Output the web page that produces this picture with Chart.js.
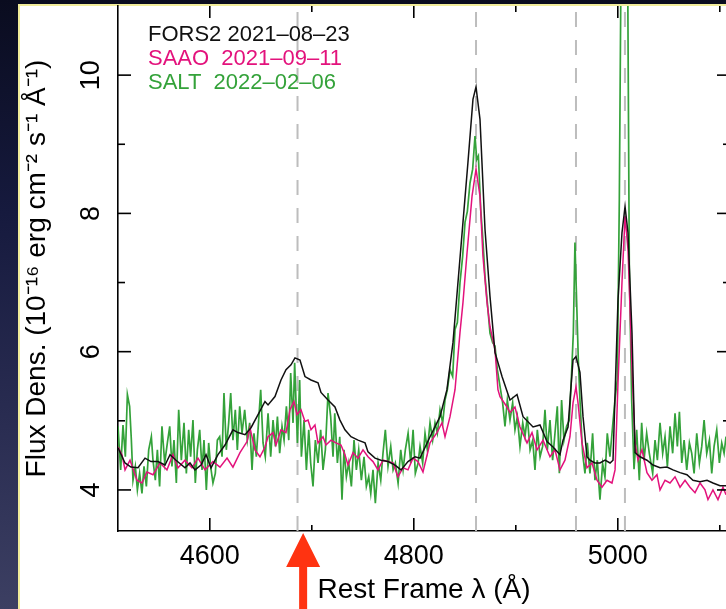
<!DOCTYPE html>
<html>
<head>
<meta charset="utf-8">
<script src="https://cdn.jsdelivr.net/npm/chart.js@4.4.1/dist/chart.umd.min.js"></script>
<style>
  html, body { margin: 0; padding: 0; overflow: hidden; }
  body {
    width: 726px; height: 609px; position: relative;
    background: linear-gradient(to bottom, #0a0c1f 0%, #161a3e 35%, #2a2d52 70%, #3c3f62 100%);
  }
  #panel {
    position: absolute; left: 18px; top: 4px; width: 760px; height: 640px;
    background: #fff; border-left: 2px solid #f1ec9a; border-top: 2px solid #f1ec9a;
  }
  #spectrum { position: absolute; left: 0; top: 0; }
</style>
</head>
<body>
<div id="panel"></div>
<canvas id="spectrum" width="740" height="609"></canvas>
<script>
// axis limits and ticks
const xMin = 4510, xMax = 5110;
const yMin = 3.406, yMax = 11.0;
const xMajorTicks = [4600, 4800, 5000];
const xMinorTicks = [4700, 4900, 5100];
const yMajorTicks = [4, 6, 8, 10];
const yMinorTicks = [5, 7, 9];

// He II 4686, H-beta, [O III] 4959 / 5007
const emissionLines = [4686, 4861, 4959, 5007];
const arrowLambda = 4691.5;

const legendLabels = ['FORS2 2021\u201308\u201323', 'SAAO  2021\u201309\u201311', 'SALT  2022\u201302\u201306'];
const seriesColors = ['#111111', '#e3127c', '#34a23a'];

// [rest wavelength (A), flux density]
const fors2 = [
  [4510.0,4.61],[4516.9,4.39],[4522.7,4.33],[4529.6,4.32],[4536.5,4.46],[4542.4,4.41],[4549.2,4.41],
  [4556.1,4.36],[4561.0,4.51],[4566.9,4.43],[4575.7,4.32],[4580.6,4.39],[4585.5,4.29],[4591.4,4.36],
  [4596.3,4.51],[4601.2,4.32],[4608.0,4.51],[4614.9,4.65],[4622.7,4.87],[4627.6,4.83],[4634.5,4.80],
  [4640.4,4.90],[4647.3,5.09],[4654.1,5.28],[4657.1,5.23],[4663.9,5.35],[4669.8,5.59],[4674.7,5.74],
  [4679.6,5.81],[4683.5,5.91],[4688.4,5.88],[4693.3,5.64],[4699.2,5.59],[4706.1,5.55],[4709.0,5.41],
  [4715.9,5.30],[4722.7,5.20],[4727.6,5.01],[4732.5,4.87],[4738.4,4.77],[4745.3,4.72],[4752.2,4.68],
  [4755.1,4.55],[4762.0,4.46],[4767.8,4.43],[4774.7,4.41],[4781.6,4.36],[4787.5,4.29],[4794.3,4.41],
  [4801.2,4.48],[4806.1,4.46],[4815.9,4.77],[4825.7,5.06],[4832.5,5.45],[4838.4,6.13],[4843.3,7.00],
  [4848.2,7.87],[4853.1,8.74],[4858.0,9.65],[4861.0,9.83],[4864.9,9.36],[4869.8,7.77],[4874.7,6.80],
  [4879.6,5.99],[4886.5,5.64],[4894.3,5.30],[4901.2,5.38],[4907.1,5.06],[4916.9,4.91],[4923.7,4.94],
  [4930.6,4.70],[4936.5,4.62],[4943.3,4.51],[4946.3,4.72],[4951.2,4.91],[4956.1,5.88],[4959.0,5.93],
  [4962.9,5.70],[4965.9,5.06],[4969.8,4.48],[4972.7,4.43],[4977.6,4.39],[4982.5,4.39],[4987.5,4.43],
  [4992.4,4.39],[4995.3,4.43],[5000.2,6.75],[5004.1,7.72],[5007.1,8.10],[5010.0,7.72],[5013.9,6.28],
  [5016.9,4.54],[5021.8,4.48],[5028.6,4.43],[5034.5,4.36],[5041.4,4.32],[5048.2,4.33],[5054.1,4.29],
  [5061.0,4.25],[5067.8,4.22],[5073.7,4.14],[5080.6,4.12],[5087.5,4.14],[5093.3,4.10],[5100.2,4.06],
  [5106.1,4.06]
];

const saao = [
  [4510.0,4.62],[4513.9,4.51],[4516.9,4.29],[4521.8,4.43],[4528.6,4.14],[4533.5,4.10],[4538.4,4.26],
  [4544.3,4.22],[4551.2,4.39],[4558.0,4.29],[4563.9,4.51],[4568.8,4.32],[4575.7,4.43],[4582.5,4.32],
  [4588.4,4.46],[4595.3,4.29],[4603.1,4.41],[4610.0,4.33],[4616.9,4.46],[4622.7,4.33],[4629.6,4.54],
  [4636.5,4.70],[4639.4,4.90],[4644.3,4.58],[4649.2,4.48],[4654.1,4.62],[4657.1,4.77],[4662.0,4.83],
  [4664.9,4.65],[4669.8,4.87],[4674.7,4.83],[4678.6,5.16],[4682.5,5.28],[4685.5,5.09],[4689.4,5.16],
  [4693.3,4.99],[4696.3,5.01],[4699.2,4.87],[4703.1,4.94],[4706.1,4.68],[4711.0,4.77],[4713.9,4.65],
  [4718.8,4.72],[4723.7,4.68],[4728.6,4.65],[4732.5,4.51],[4735.5,4.36],[4740.4,4.54],[4745.3,4.46],
  [4750.2,4.58],[4755.1,4.48],[4760.0,4.41],[4764.9,4.29],[4769.8,4.43],[4774.7,4.41],[4779.6,4.39],
  [4784.5,4.19],[4789.4,4.32],[4794.3,4.29],[4799.2,4.46],[4804.1,4.41],[4809.0,4.26],[4815.9,4.68],
  [4822.7,4.83],[4827.6,4.97],[4830.6,4.77],[4835.5,5.06],[4840.4,5.45],[4845.3,6.28],[4848.2,6.71],
  [4852.2,7.43],[4857.1,8.25],[4861.0,8.64],[4864.9,8.25],[4867.8,7.38],[4871.8,6.71],[4874.7,6.36],
  [4879.6,6.03],[4882.5,5.45],[4884.5,5.35],[4891.4,5.20],[4894.3,5.12],[4899.2,5.20],[4904.1,4.91],
  [4911.0,4.68],[4915.9,4.83],[4920.8,4.58],[4926.7,4.72],[4933.5,4.48],[4938.4,4.58],[4943.3,4.29],
  [4948.2,4.43],[4953.1,4.77],[4956.1,5.26],[4959.0,5.49],[4961.0,5.26],[4964.9,4.68],[4969.8,4.32],
  [4974.7,4.39],[4979.6,4.14],[4984.5,4.04],[4989.4,4.14],[4994.3,4.10],[4997.3,4.29],[5000.2,5.55],
  [5004.1,7.00],[5007.1,7.96],[5010.0,7.48],[5013.9,5.78],[5016.9,4.68],[5019.8,4.43],[5023.7,4.58],
  [5028.6,4.25],[5033.5,4.14],[5038.4,4.22],[5041.4,4.00],[5046.3,4.14],[5051.2,4.10],[5056.1,4.19],
  [5061.0,4.04],[5065.9,4.14],[5070.8,4.04],[5075.7,3.96],[5080.6,4.10],[5085.5,4.00],[5088.4,3.86],
  [5093.3,4.00],[5098.2,3.86],[5103.1,4.04],[5106.1,3.93]
];

const salt = [
  [4510.0,4.92],[4512.6,4.29],[4514.9,4.94],[4517.2,4.48],[4519.2,5.38],[4521.4,5.21],[4523.1,4.72],
  [4524.7,4.14],[4527.0,4.34],[4529.0,4.00],[4531.2,4.24],[4533.5,3.95],[4535.5,4.34],[4537.8,4.05],
  [4540.1,4.58],[4542.7,4.77],[4544.3,4.43],[4546.6,4.14],[4548.6,4.58],[4550.8,4.05],[4553.1,4.92],
  [4555.8,4.39],[4558.4,4.68],[4560.7,4.92],[4562.9,4.34],[4564.9,4.72],[4567.2,4.10],[4569.5,5.16],
  [4572.1,4.43],[4574.7,4.97],[4577.0,4.24],[4579.3,4.87],[4581.2,4.48],[4583.5,5.01],[4585.8,4.10],
  [4587.8,4.58],[4590.1,4.87],[4592.4,4.29],[4594.3,4.72],[4596.6,4.00],[4598.9,4.68],[4600.8,4.34],
  [4603.1,4.10],[4605.4,4.24],[4607.4,4.72],[4609.7,4.77],[4612.0,4.48],[4613.9,5.40],[4616.2,4.58],
  [4618.5,4.97],[4620.5,5.40],[4622.7,4.72],[4625.0,5.16],[4627.0,4.58],[4629.3,5.21],[4631.6,4.82],
  [4634.2,5.16],[4636.8,4.72],[4639.1,4.97],[4641.4,4.29],[4643.3,4.82],[4645.6,4.48],[4647.9,5.01],
  [4649.9,5.45],[4652.2,4.68],[4654.4,4.48],[4657.1,5.11],[4659.7,4.48],[4662.0,5.01],[4664.3,4.63],
  [4666.3,5.06],[4668.5,4.53],[4670.8,4.92],[4672.8,4.72],[4675.1,5.21],[4677.4,4.72],[4679.3,5.69],
  [4681.6,4.97],[4683.2,5.84],[4685.9,4.68],[4688.1,5.59],[4689.8,4.48],[4692.4,5.01],[4694.7,4.29],
  [4697.0,4.87],[4698.9,4.39],[4701.2,4.05],[4703.5,4.72],[4706.1,4.39],[4708.7,4.87],[4711.0,4.29],
  [4713.3,4.58],[4715.9,5.40],[4718.5,5.06],[4720.8,4.48],[4722.5,5.11],[4725.1,4.39],[4727.4,4.77],
  [4729.6,3.86],[4731.6,4.58],[4733.9,4.19],[4736.2,4.39],[4738.8,4.05],[4741.4,4.72],[4743.7,4.29],
  [4746.0,4.58],[4748.6,4.14],[4751.2,4.48],[4753.5,4.05],[4755.8,4.19],[4757.8,3.95],[4760.0,4.29],
  [4762.3,3.81],[4765.0,4.39],[4767.6,4.14],[4769.8,4.53],[4772.1,4.87],[4774.7,4.34],[4777.4,4.63],
  [4779.7,4.29],[4781.9,4.39],[4784.6,4.10],[4787.2,4.58],[4789.5,4.29],[4791.7,4.58],[4794.4,4.82],
  [4797.0,4.39],[4799.3,4.87],[4801.5,4.24],[4804.2,4.39],[4806.1,4.63],[4808.7,4.39],[4811.0,4.82],
  [4813.3,4.58],[4815.9,4.97],[4818.5,4.72],[4820.8,4.97],[4823.1,4.82],[4825.7,5.16],[4828.3,4.97],
  [4830.6,5.30],[4832.9,5.45],[4835.5,5.74],[4838.1,5.64],[4840.4,6.32],[4842.7,6.42],[4845.3,7.00],
  [4847.9,7.38],[4850.2,7.87],[4852.5,8.03],[4855.1,8.44],[4857.7,8.64],[4860.0,9.12],[4861.7,8.78],
  [4863.3,8.83],[4865.6,8.06],[4867.5,7.67],[4869.8,7.09],[4872.1,6.71],[4874.7,6.27],[4877.3,6.13],
  [4879.6,6.08],[4881.9,5.74],[4884.5,5.50],[4887.1,5.26],[4889.4,4.92],[4891.7,5.30],[4894.3,5.01],
  [4896.9,5.26],[4899.2,4.87],[4901.5,5.06],[4904.1,4.63],[4906.8,4.97],[4909.0,4.77],[4911.3,5.06],
  [4914.0,4.58],[4916.6,4.72],[4918.8,4.29],[4921.1,4.87],[4923.8,4.48],[4926.3,4.63],[4928.6,5.16],
  [4930.9,4.58],[4933.5,5.01],[4936.1,4.43],[4938.4,4.82],[4940.7,5.21],[4942.7,4.24],[4944.9,5.30],
  [4947.2,4.72],[4949.8,4.92],[4952.5,5.01],[4954.7,5.69],[4956.4,6.27],[4958.0,7.58],[4959.6,6.75],
  [4961.3,5.88],[4962.9,5.30],[4965.5,4.53],[4967.8,4.24],[4970.1,4.68],[4972.7,4.24],[4975.3,4.82],
  [4977.6,4.14],[4979.9,4.43],[4982.5,3.86],[4985.1,4.38],[4987.4,4.19],[4989.7,4.82],[4992.3,4.48],
  [4994.9,4.92],[4997.2,5.30],[4999.5,5.60],[5001.5,8.20],[5003.1,11.5],[5004.7,13.5],[5007.0,14.5],
  [5009.3,12.5],[5011.3,7.20],[5013.6,5.30],[5015.9,4.30],[5018.5,4.87],[5021.1,4.14],[5023.4,4.97],
  [5025.7,4.43],[5028.3,4.82],[5030.9,4.53],[5034.2,4.24],[5036.5,4.72],[5038.8,4.43],[5041.4,4.97],
  [5044.0,4.53],[5046.3,4.77],[5048.6,4.34],[5051.2,4.92],[5053.8,4.53],[5056.1,5.11],[5058.4,4.63],
  [5060.4,5.13],[5062.7,4.39],[5065.0,4.72],[5067.6,4.29],[5070.2,4.68],[5072.5,4.53],[5074.8,4.24],
  [5077.4,4.82],[5080.0,4.39],[5082.3,4.63],[5084.6,5.01],[5087.2,4.53],[5089.8,4.72],[5092.1,4.24],
  [5094.4,4.63],[5097.0,4.87],[5099.6,4.39],[5101.9,4.68],[5104.2,4.53],[5106.1,4.77]
];

const FONT = "'Liberation Sans', Arial, Helvetica, sans-serif";
Chart.defaults.font.family = FONT;
Chart.defaults.color = '#000';

const toPoints = arr => arr.map(([x, y]) => ({ x, y }));

const spectrumSets = [fors2, saao, salt].map((arr, i) => ({
    label: legendLabels[i],
    data: toPoints(arr),
    borderColor: seriesColors[i],
    borderWidth: i === 2 ? 1.7 : 1.5,
    pointRadius: 0,
    tension: 0,
    fill: false
}));

const lineSets = emissionLines.map(l => ({
    label: 'line ' + l,
    data: [{ x: l, y: yMin }, { x: l, y: yMax }],
    borderColor: '#bdbdbd',
    borderWidth: 2,
    borderDash: [15, 13],
    pointRadius: 0
}));

// no extra room around the axes, the plot fills the frame
const noPad = s => { s.paddingTop = 0; s.paddingBottom = 0; s.paddingLeft = 0; s.paddingRight = 0; };

// inward ticks, legend and the arrow below the axis
const decorations = {
    id: 'decorations',
    afterDraw(chart) {
        const { ctx, chartArea: a, scales: { x, y } } = chart;
        ctx.save();
        ctx.strokeStyle = '#000';
        ctx.lineWidth = 1.6;
        const seg = (x1, y1, x2, y2) => {
            ctx.beginPath(); ctx.moveTo(x1, y1); ctx.lineTo(x2, y2); ctx.stroke();
        };
        xMajorTicks.forEach(v => {
            const p = x.getPixelForValue(v);
            seg(p, a.bottom, p, a.bottom - 13);
            seg(p, a.top, p, a.top + 12);
        });
        xMinorTicks.forEach(v => {
            const p = x.getPixelForValue(v);
            seg(p, a.bottom, p, a.bottom - 6);
            seg(p, a.top, p, a.top + 6);
        });
        yMajorTicks.forEach(v => {
            const p = y.getPixelForValue(v);
            seg(a.left, p, a.left + 13, p);
            seg(a.right, p, a.right - 13, p);
        });
        yMinorTicks.forEach(v => {
            const p = y.getPixelForValue(v);
            seg(a.left, p, a.left + 7, p);
            seg(a.right, p, a.right - 7, p);
        });

        // legend
        ctx.font = '22px ' + FONT;
        ctx.textBaseline = 'middle';
        ctx.textAlign = 'left';
        legendLabels.forEach((t, i) => {
            ctx.fillStyle = seriesColors[i];
            ctx.fillText(t, a.left + 30, a.top + 29 + i * 24);
        });

        // red arrow pointing at He II
        const cx = x.getPixelForValue(arrowLambda);
        const tip = a.bottom + 2;
        ctx.fillStyle = '#ff3311';
        ctx.beginPath();
        ctx.moveTo(cx, tip);
        ctx.lineTo(cx + 17, tip + 34);
        ctx.lineTo(cx + 4, tip + 34);
        ctx.lineTo(cx + 4, chart.height);
        ctx.lineTo(cx - 4, chart.height);
        ctx.lineTo(cx - 4, tip + 34);
        ctx.lineTo(cx - 17, tip + 34);
        ctx.closePath();
        ctx.fill();
        ctx.restore();
    }
};

new Chart(document.getElementById('spectrum'), {
    type: 'line',
    data: { datasets: [...spectrumSets, ...lineSets] },
    options: {
        responsive: false,
        animation: false,
        layout: { padding: { top: 6, right: 10, left: 0, bottom: 0 } },
        plugins: { legend: { display: false }, tooltip: { enabled: false } },
        scales: {
            x: {
                type: 'linear',
                min: xMin,
                max: xMax,
                afterBuildTicks: s => { s.ticks = xMajorTicks.map(v => ({ value: v })); },
                afterFit: s => { s.height = 78; noPad(s); },
                grid: { display: false },
                border: { color: '#000', width: 1.6 },
                ticks: { font: { size: 27 }, padding: 1, maxRotation: 0, callback: v => String(v) },
                title: {
                    display: true,
                    text: 'Rest Frame \u03bb (\u00c5)',
                    font: { size: 28 },
                    padding: { top: 0, bottom: 2 }
                }
            },
            y: {
                type: 'linear',
                min: yMin,
                max: yMax,
                afterBuildTicks: s => { s.ticks = yMajorTicks.map(v => ({ value: v })); },
                afterFit: s => { s.width = 118; noPad(s); },
                grid: { display: false },
                border: { color: '#000', width: 1.6 },
                ticks: { font: { size: 27 }, padding: 3, minRotation: 90, maxRotation: 90, crossAlign: 'center' },
                title: {
                    display: true,
                    text: 'Flux Dens. (10\u207b\u00b9\u2076 erg cm\u207b\u00b2 s\u207b\u00b9 \u00c5\u207b\u00b9)',
                    font: { size: 28 },
                    padding: { top: 20, bottom: 0 }
                }
            }
        }
    },
    plugins: [decorations]
});
</script>
</body>
</html>
